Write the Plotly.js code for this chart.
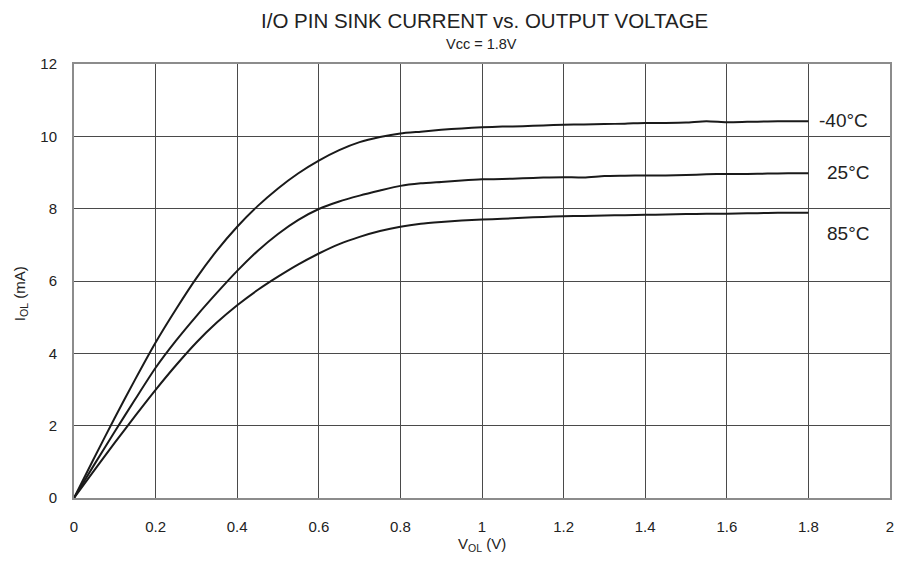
<!DOCTYPE html>
<html>
<head>
<meta charset="utf-8">
<script src="https://cdn.plot.ly/plotly-3.0.1.min.js"></script>
<style>html,body{margin:0;padding:0;background:#fff;}#chart{width:902px;height:571px;}</style>
</head>
<body>
<div id="chart"></div>
<script>
// Output voltage V_OL (V)
const vol = [0, 0.05, 0.1, 0.15, 0.2, 0.25, 0.3, 0.35, 0.4, 0.45, 0.5, 0.55, 0.6, 0.65, 0.7, 0.75, 0.8, 0.85, 0.9, 0.95, 1.0, 1.05, 1.1, 1.15, 1.2, 1.25, 1.3, 1.35, 1.4, 1.45, 1.5, 1.55, 1.6, 1.65, 1.7, 1.75, 1.8];
// Sink current I_OL (mA)
const iolM40 = [0, 1.12, 2.22, 3.28, 4.3, 5.22, 6.08, 6.84, 7.5, 8.07, 8.56, 8.98, 9.33, 9.62, 9.84, 9.98, 10.08, 10.13, 10.18, 10.22, 10.25, 10.27, 10.28, 10.3, 10.32, 10.33, 10.34, 10.35, 10.37, 10.37, 10.38, 10.42, 10.39, 10.4, 10.41, 10.42, 10.42];
const iol25  = [0, 0.93, 1.84, 2.73, 3.6, 4.35, 5.03, 5.67, 6.28, 6.83, 7.3, 7.69, 7.99, 8.2, 8.36, 8.5, 8.63, 8.7, 8.74, 8.78, 8.81, 8.82, 8.84, 8.86, 8.87, 8.86, 8.9, 8.91, 8.92, 8.92, 8.93, 8.95, 8.96, 8.96, 8.97, 8.98, 8.98];
const iol85  = [0, 0.77, 1.53, 2.27, 2.99, 3.67, 4.3, 4.85, 5.33, 5.75, 6.12, 6.46, 6.76, 7.02, 7.22, 7.38, 7.5, 7.58, 7.63, 7.67, 7.7, 7.72, 7.75, 7.77, 7.79, 7.8, 7.81, 7.82, 7.83, 7.84, 7.85, 7.86, 7.86, 7.87, 7.88, 7.89, 7.89];
const seriesNames = ['-40°C', '25°C', '85°C'];
const labelPos = [[1.887, 10.45], [1.896, 9.01], [1.896, 7.31]];
const xTicks = [0, 0.2, 0.4, 0.6, 0.8, 1, 1.2, 1.4, 1.6, 1.8, 2];
const yTicks = [0, 2, 4, 6, 8, 10, 12];

const FONT = 'Arial, "Liberation Sans", Helvetica, sans-serif';
const allY = [iolM40, iol25, iol85];
const traces = allY.map((ys, i) => ({
  x: vol, y: ys, type: 'scatter', mode: 'lines', name: seriesNames[i],
  line: {color: '#1a1a1a', width: 2, shape: 'spline', smoothing: 0.6},
  hoverinfo: 'skip'
}));

const annotations = seriesNames.map((n, i) => ({
  text: n, x: labelPos[i][0], y: labelPos[i][1], xref: 'x', yref: 'y',
  showarrow: false, xanchor: 'center', yanchor: 'middle',
  font: {family: FONT, size: 19, color: '#222'}
}));
annotations.push(
  {text: 'I/O PIN SINK CURRENT vs. OUTPUT VOLTAGE', xref: 'paper', yref: 'paper', x: 0.5025, y: 1.101,
   showarrow: false, xanchor: 'center', yanchor: 'middle', font: {family: FONT, size: 20.5, color: '#222'}},
  {text: 'Vcc = 1.8V', xref: 'paper', yref: 'paper', x: 0.4988, y: 1.046,
   showarrow: false, xanchor: 'center', yanchor: 'middle', font: {family: FONT, size: 14.5, color: '#222'}},
  {text: 'V<sub>OL</sub> (V)', xref: 'paper', yref: 'paper', x: 0.5, y: -0.108,
   showarrow: false, xanchor: 'center', yanchor: 'middle', font: {family: FONT, size: 15, color: '#222'}},
  {text: 'I<sub>OL</sub> (mA)', xref: 'paper', yref: 'paper', x: -0.0662, y: 0.472, textangle: -90,
   showarrow: false, xanchor: 'center', yanchor: 'middle', font: {family: FONT, size: 15, color: '#222'}}
);

const layout = {
  width: 902, height: 571, autosize: false,
  margin: {l: 74, r: 12, t: 64, b: 73, pad: 0},
  paper_bgcolor: '#fff', plot_bgcolor: '#fff',
  showlegend: false,
  font: {family: FONT, color: '#222', size: 15},
  xaxis: {
    range: [0, 2], tickvals: xTicks, ticktext: xTicks.map(String),
    showgrid: true, gridcolor: '#4a4a4a', gridwidth: 1,
    zeroline: false, showline: true, mirror: true, linecolor: '#8c8c8c', linewidth: 2,
    ticks: '', ticklabelstandoff: 14, tickfont: {family: FONT, size: 15, color: '#222'}
  },
  yaxis: {
    range: [0, 12], tickvals: yTicks, ticktext: yTicks.map(String),
    showgrid: true, gridcolor: '#4a4a4a', gridwidth: 1,
    zeroline: false, showline: true, mirror: true, linecolor: '#8c8c8c', linewidth: 2,
    ticks: '', ticklabelstandoff: 12, tickfont: {family: FONT, size: 15, color: '#222'}
  },
  annotations: annotations
};

Plotly.newPlot('chart', traces, layout, {displayModeBar: false, staticPlot: true});
</script>
</body>
</html>
